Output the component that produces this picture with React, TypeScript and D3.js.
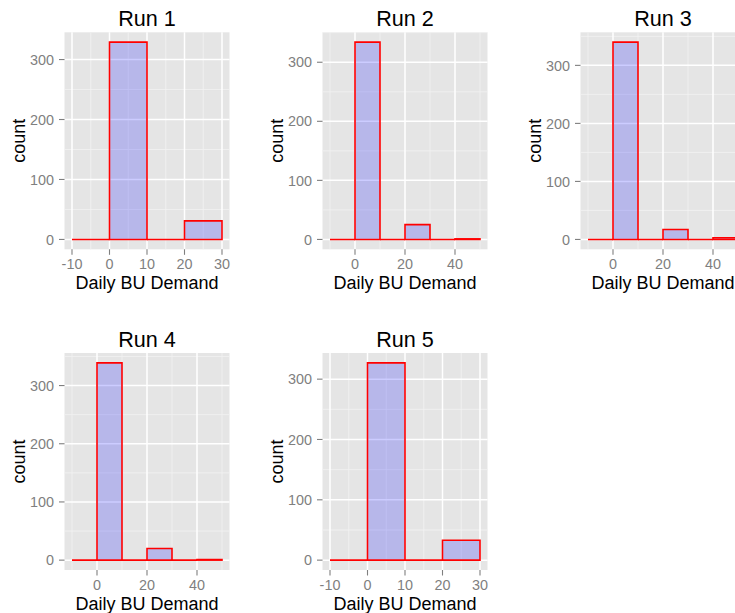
import React from "react";
import * as d3 from "d3";

const runTitles = ["Run 1", "Run 2", "Run 3", "Run 4", "Run 5"];
const binWidth = 10;
const binStartsShort = [-10, 0, 10, 20];
const binStartsLong = [-10, 0, 10, 20, 30, 40];
const run1Counts = [0, 329, 0, 31];
const run2Counts = [0, 334, 0, 25, 0, 1];
const run3Counts = [0, 340, 0, 17, 0, 3];
const run4Counts = [0, 339, 0, 20, 0, 1];
const run5Counts = [0, 327, 0, 33];
const xTicksShort = [-10, 0, 10, 20, 30];
const xTicksLong = [0, 20, 40];
const yTicks = [0, 100, 200, 300];
const xLabel = "Daily BU Demand";
const yLabel = "count";

const runs = [
  { title: runTitles[0], starts: binStartsShort, counts: run1Counts, xTicks: xTicksShort },
  { title: runTitles[1], starts: binStartsLong, counts: run2Counts, xTicks: xTicksLong },
  { title: runTitles[2], starts: binStartsLong, counts: run3Counts, xTicks: xTicksLong },
  { title: runTitles[3], starts: binStartsLong, counts: run4Counts, xTicks: xTicksLong },
  { title: runTitles[4], starts: binStartsShort, counts: run5Counts, xTicks: xTicksShort },
];

const W = 735;
const H = 613;
const colLefts = [64.5, 322.5, 580.5];
const rowTops = [32.3, 353];
const PW = 165;
const PH = 217;
const FONT = "'Liberation Sans', Arial, Helvetica, sans-serif";

function minorBreaks(major: number[], lo: number, hi: number) {
  const step = major[1] - major[0];
  const b = [major[0] - step, ...major, major[major.length - 1] + step];
  const out: number[] = [];
  for (let i = 0; i < b.length - 1; i++) {
    const m = (b[i] + b[i + 1]) / 2;
    if (m >= lo && m <= hi) out.push(m);
  }
  return out;
}

function Panel({ run, left, top }: any) {
  const xMin = run.starts[0];
  const xMax = run.starts[run.starts.length - 1] + binWidth;
  const xPad = (xMax - xMin) * 0.05;
  const yMaxV = d3.max(run.counts as number[]) as number;
  const yPad = yMaxV * 0.05;
  const x = d3.scaleLinear().domain([xMin - xPad, xMax + xPad]).range([left, left + PW]);
  const y = d3.scaleLinear().domain([-yPad, yMaxV + yPad]).range([top + PH, top]);
  const [dx0, dx1] = x.domain();
  const [dy0, dy1] = y.domain();
  const xMajor = run.xTicks.filter((t: number) => t >= dx0 && t <= dx1);
  const yMajor = yTicks.filter((t) => t >= dy0 && t <= dy1);
  const xMinor = minorBreaks(run.xTicks, dx0, dx1);
  const yMinor = minorBreaks(yTicks, dy0, dy1);
  const bottom = top + PH;
  const cx = left + PW / 2;
  const cy = top + PH / 2;
  return (
    <g>
      <rect x={left} y={top} width={PW} height={PH} fill="#E5E5E5" />
      {xMinor.map((t) => (
        <line key={"xm" + t} x1={x(t)} x2={x(t)} y1={top} y2={bottom} stroke="#F2F2F2" strokeWidth={0.8} />
      ))}
      {yMinor.map((t) => (
        <line key={"ym" + t} x1={left} x2={left + PW} y1={y(t)} y2={y(t)} stroke="#F2F2F2" strokeWidth={0.8} />
      ))}
      {xMajor.map((t: number) => (
        <line key={"xM" + t} x1={x(t)} x2={x(t)} y1={top} y2={bottom} stroke="#FFFFFF" strokeWidth={1.5} />
      ))}
      {yMajor.map((t) => (
        <line key={"yM" + t} x1={left} x2={left + PW} y1={y(t)} y2={y(t)} stroke="#FFFFFF" strokeWidth={1.5} />
      ))}
      {run.starts.map((s: number, i: number) => {
        const x0 = x(s);
        const x1 = x(s + binWidth);
        const y0 = y(0);
        const y1 = y(run.counts[i]);
        const p = d3.path();
        p.moveTo(x0, y0);
        p.lineTo(x0, y1);
        p.lineTo(x1, y1);
        p.lineTo(x1, y0);
        p.closePath();
        return (
          <path key={"b" + i} d={p.toString()} fill="blue" fillOpacity={0.2} stroke="red" strokeWidth={1.6} strokeLinejoin="miter" />
        );
      })}
      {xMajor.map((t: number) => (
        <g key={"xt" + t}>
          <line x1={x(t)} x2={x(t)} y1={bottom} y2={bottom + 5.5} stroke="#7F7F7F" strokeWidth={1.1} />
          <text x={x(t)} y={bottom + 20} textAnchor="middle" fontSize={14.4} fill="#7F7F7F" fontFamily={FONT}>
            {t}
          </text>
        </g>
      ))}
      {yMajor.map((t) => (
        <g key={"yt" + t}>
          <line x1={left - 5.5} x2={left} y1={y(t)} y2={y(t)} stroke="#7F7F7F" strokeWidth={1.1} />
          <text x={left - 10.5} y={y(t)} dy="0.36em" textAnchor="end" fontSize={14.4} fill="#7F7F7F" fontFamily={FONT}>
            {t}
          </text>
        </g>
      ))}
      <text x={cx} y={top - 6} textAnchor="middle" fontSize={21.6} fill="#000" fontFamily={FONT}>
        {run.title}
      </text>
      <text x={cx} y={bottom + 39.7} textAnchor="middle" fontSize={18} fill="#000" fontFamily={FONT}>
        {xLabel}
      </text>
      <text
        transform={`translate(${left - 39.5},${cy}) rotate(-90)`}
        textAnchor="middle"
        fontSize={18}
        fill="#000"
        fontFamily={FONT}
      >
        {yLabel}
      </text>
    </g>
  );
}

export default function App() {
  return (
    <svg
      width={W}
      height={H}
      style={{ position: "absolute", left: 0, top: 0, background: "#fff", display: "block" }}
    >
      <rect x={0} y={0} width={W} height={H} fill="#fff" />
      {runs.map((run, i) => (
        <Panel key={i} run={run} left={colLefts[i % 3]} top={rowTops[Math.floor(i / 3)]} />
      ))}
    </svg>
  );
}
